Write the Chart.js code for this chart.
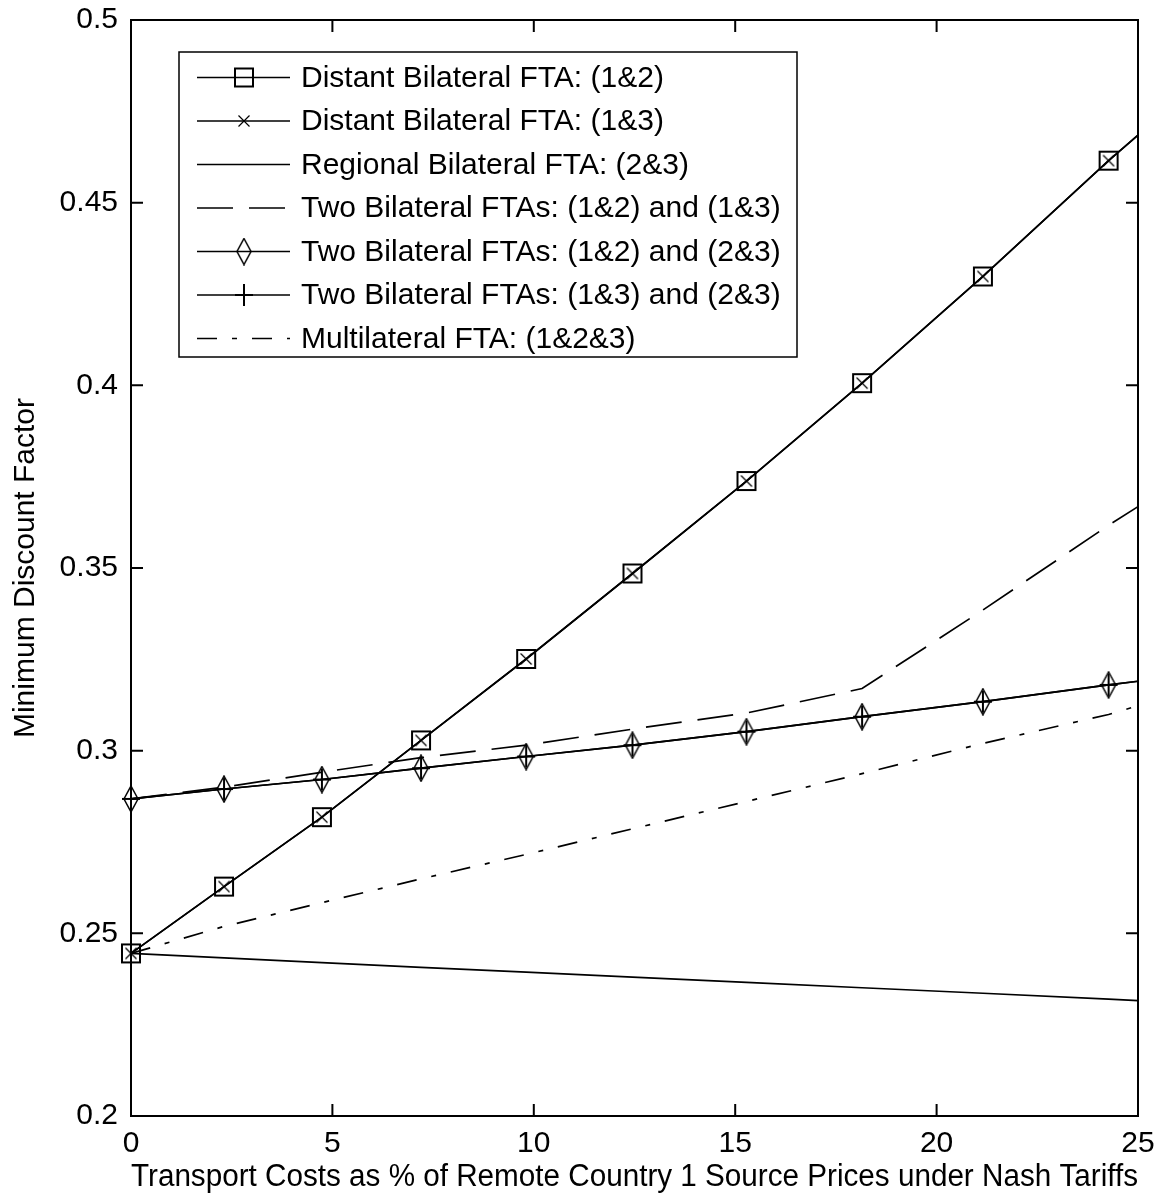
<!DOCTYPE html>
<html>
<head>
<meta charset="utf-8">
<script src="https://cdn.jsdelivr.net/npm/chart.js@4/dist/chart.umd.min.js"></script>
<style>
  body { margin: 0; background: #fff; }
  #wrap { width: 1159px; height: 1201px; }
</style>
</head>
<body>
<div id="wrap"><canvas id="chart" width="1159" height="1201"></canvas></div>
<script>
// transport cost grid (x) where markers sit, plus the end point at 25
const xs = [0, 2.31, 4.74, 7.2, 9.81, 12.45, 15.28, 18.15, 21.15, 24.27, 25];

// minimum discount factor for each scenario
const distant12   = [0.2445, 0.2628, 0.2818, 0.3028, 0.3251, 0.3485, 0.3738, 0.4006, 0.4298, 0.4615, 0.4685];
const distant13   = [0.2445, 0.2628, 0.2818, 0.3028, 0.3251, 0.3485, 0.3738, 0.4006, 0.4298, 0.4615, 0.4685];
const regional23  = [0.2445, 0.2433, 0.2420, 0.2407, 0.2394, 0.2380, 0.2366, 0.2351, 0.2336, 0.2320, 0.2316];
const two12and13  = [0.2868, 0.2900, 0.2941, 0.2981, 0.3015, 0.3059, 0.3103, 0.3170, 0.3385, 0.3617, 0.3668];
const two12and23  = [0.2868, 0.2895, 0.2921, 0.2952, 0.2984, 0.3015, 0.3052, 0.3093, 0.3134, 0.3180, 0.3190];
const two13and23  = [0.2868, 0.2895, 0.2921, 0.2952, 0.2984, 0.3015, 0.3052, 0.3093, 0.3134, 0.3180, 0.3190];
const multi123    = [0.2445, 0.2519, 0.2584, 0.2649, 0.2716, 0.2786, 0.2861, 0.2937, 0.3020, 0.3099, 0.3123];

const legendLabels = [
    'Distant Bilateral FTA: (1&2)',
    'Distant Bilateral FTA: (1&3)',
    'Regional Bilateral FTA: (2&3)',
    'Two Bilateral FTAs: (1&2) and (1&3)',
    'Two Bilateral FTAs: (1&2) and (2&3)',
    'Two Bilateral FTAs: (1&3) and (2&3)',
    'Multilateral FTA: (1&2&3)'
];

const FONT = "'Liberation Sans', Arial, sans-serif";

// small canvases used as marker shapes (matlab style, unfilled)
function makeMarker(w, h, draw) {
    const c = document.createElement('canvas');
    c.width = w;
    c.height = h;
    const g = c.getContext('2d');
    g.strokeStyle = '#000';
    g.lineWidth = 1.5;
    draw(g, w, h);
    return c;
}

const squareMark = makeMarker(24, 24, (g) => {
    g.lineWidth = 2;
    g.strokeRect(3, 3, 18, 18);
});
const xMark = makeMarker(14, 14, (g) => {
    g.lineWidth = 1.2;
    g.beginPath();
    g.moveTo(1.5, 1.5); g.lineTo(12.5, 12.5);
    g.moveTo(12.5, 1.5); g.lineTo(1.5, 12.5);
    g.stroke();
});
const diamondMark = makeMarker(18, 28, (g) => {
    g.beginPath();
    g.moveTo(9, 1); g.lineTo(16, 14); g.lineTo(9, 27); g.lineTo(2, 14);
    g.closePath();
    g.stroke();
});
const plusMark = makeMarker(20, 24, (g) => {
    g.lineWidth = 2;
    g.beginPath();
    g.moveTo(10, 1); g.lineTo(10, 23);
    g.moveTo(1, 12); g.lineTo(19, 12);
    g.stroke();
});

function toPoints(ys) {
    return xs.map((x, i) => ({ x: x, y: ys[i] }));
}

// markers on every grid point except the final end point
function markerRadii(r) {
    return xs.map((x, i) => (i === xs.length - 1 ? 0 : r));
}

function series(label, ys, dash, marker) {
    return {
        label: label,
        data: toPoints(ys),
        borderColor: '#000',
        borderWidth: 1.7,
        borderDash: dash,
        fill: false,
        tension: 0,
        clip: false,
        pointStyle: marker || 'circle',
        pointRadius: marker ? markerRadii(10) : 0,
        pointBackgroundColor: 'rgba(0,0,0,0)',
        pointBorderColor: '#000',
        legendMarker: marker || null
    };
}

const datasets = [
    series(legendLabels[0], distant12, [], squareMark),
    series(legendLabels[1], distant13, [], xMark),
    series(legendLabels[2], regional23, [], null),
    series(legendLabels[3], two12and13, [36, 16], null),
    series(legendLabels[4], two12and23, [], diamondMark),
    series(legendLabels[5], two13and23, [], plusMark),
    series(legendLabels[6], multi123, [20, 15, 5, 15], null)
];

// box around the axes with inward ticks on all four sides
const boxPlugin = {
    id: 'matlabBox',
    afterDraw(chart) {
        const ctx = chart.ctx;
        const a = chart.chartArea;
        const xScale = chart.scales.x;
        const yScale = chart.scales.y;
        const tick = 12;
        ctx.save();
        ctx.strokeStyle = '#000';
        ctx.lineWidth = 2;
        ctx.strokeRect(a.left, a.top, a.right - a.left, a.bottom - a.top);
        ctx.beginPath();
        xScale.ticks.forEach(t => {
            const px = xScale.getPixelForValue(t.value);
            ctx.moveTo(px, a.bottom); ctx.lineTo(px, a.bottom - tick);
            ctx.moveTo(px, a.top); ctx.lineTo(px, a.top + tick);
        });
        yScale.ticks.forEach(t => {
            const py = yScale.getPixelForValue(t.value);
            ctx.moveTo(a.left, py); ctx.lineTo(a.left + tick, py);
            ctx.moveTo(a.right, py); ctx.lineTo(a.right - tick, py);
        });
        ctx.stroke();
        ctx.restore();
    }
};

// legend box drawn inside the plot, upper left
const legendPlugin = {
    id: 'matlabLegend',
    afterDraw(chart) {
        const ctx = chart.ctx;
        const box = { left: 179, top: 52, right: 797, bottom: 357 };
        const rowTop = 77.5;
        const rowStep = 43.5;
        const lineX0 = 197, lineX1 = 290, markX = 244, textX = 301;
        ctx.save();
        ctx.fillStyle = '#fff';
        ctx.fillRect(box.left, box.top, box.right - box.left, box.bottom - box.top);
        ctx.strokeStyle = '#000';
        ctx.lineWidth = 1.5;
        ctx.strokeRect(box.left, box.top, box.right - box.left, box.bottom - box.top);
        chart.data.datasets.forEach((ds, i) => {
            const y = rowTop + i * rowStep;
            ctx.setLineDash(ds.borderDash || []);
            ctx.lineWidth = ds.borderWidth;
            ctx.beginPath();
            ctx.moveTo(lineX0, y);
            ctx.lineTo(lineX1, y);
            ctx.stroke();
            ctx.setLineDash([]);
            if (ds.legendMarker) {
                const m = ds.legendMarker;
                ctx.drawImage(m, markX - m.width / 2, y - m.height / 2);
            }
            ctx.fillStyle = '#000';
            ctx.font = '30px ' + FONT;
            ctx.textBaseline = 'middle';
            ctx.textAlign = 'left';
            ctx.fillText(ds.label, textX, y + 1);
        });
        ctx.restore();
    }
};

new Chart(document.getElementById('chart'), {
    type: 'line',
    data: { datasets: datasets },
    options: {
        responsive: false,
        animation: false,
        events: [],
        layout: { padding: { top: 20, right: 21, left: 0, bottom: 0 } },
        plugins: {
            legend: { display: false },
            tooltip: { enabled: false }
        },
        scales: {
            x: {
                type: 'linear',
                min: 0,
                max: 25,
                grid: { display: false, drawTicks: false },
                border: { display: false },
                ticks: {
                    stepSize: 5,
                    padding: 10,
                    color: '#000',
                    font: { family: FONT, size: 30 },
                    maxRotation: 0
                },
                title: {
                    display: true,
                    text: 'Transport Costs as % of Remote Country 1 Source Prices under Nash Tariffs',
                    color: '#000',
                    font: { family: FONT, size: 31 },
                    padding: { top: 0, bottom: 5 }
                },
                afterFit(scale) {
                    scale.height = 85;
                    scale.paddingLeft = 0;
                    scale.paddingRight = 0;
                }
            },
            y: {
                type: 'linear',
                min: 0.2,
                max: 0.5,
                grid: { display: false, drawTicks: false },
                border: { display: false },
                ticks: {
                    stepSize: 0.05,
                    padding: 13,
                    color: '#000',
                    font: { family: FONT, size: 30 },
                    callback: (v) => String(+v.toFixed(2))
                },
                title: {
                    display: true,
                    text: 'Minimum Discount Factor',
                    color: '#000',
                    font: { family: FONT, size: 30 },
                    padding: { top: 8, bottom: 0 }
                },
                afterFit(scale) {
                    scale.width = 131;
                    scale.paddingTop = 0;
                    scale.paddingBottom = 0;
                }
            }
        }
    },
    plugins: [boxPlugin, legendPlugin]
});
</script>
</body>
</html>
